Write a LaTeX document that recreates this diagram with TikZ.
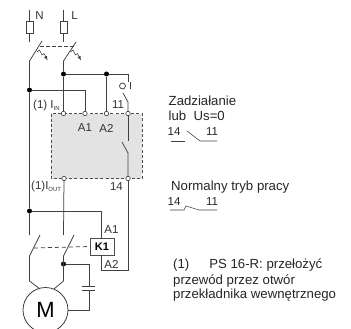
\documentclass[tikz,border=0pt]{standalone}
\usepackage{amsmath}
\usepackage{fontspec}
\setmainfont{Liberation Sans}
\begin{document}
\begin{tikzpicture}[x=1pt,y=-1pt,
	wire/.style={draw=black!75,line width=0.75pt},
	dot/.style={circle,fill=black,inner sep=0pt,minimum size=5pt},
	term/.style={circle,draw=black!70,fill=white,line width=0.7pt,inner sep=0pt,minimum size=4.4pt},
	lab/.style={text=black!80,font=\fontsize{11.5}{13}\selectfont},
	note/.style={text=black!85,font=\fontsize{13.2}{15}\selectfont,anchor=west},
	num/.style={text=black!85,font=\fontsize{11.5}{13}\selectfont,anchor=west}]
	\tikzstyle{every node}+=[inner sep=0pt]
	\useasboundingbox (0,0) rectangle (351,329);
	\fill [white] (0,0) rectangle (351,329);
	\fill [black!11] (51,113.5) rectangle (142,178.5);
	\draw [black!70,line width=0.7pt,dash pattern=on 3pt off 2.2pt] (51,113.5) rectangle (142,178.5);
	\node [dot] (q1) at (63.5,74) {};
	\node [dot] (q2) at (106.5,74) {};
	\node [dot] (q3) at (29.5,90) {};
	\node [dot] (q4) at (29.5,211) {};
	\node [dot] (q5) at (63.5,264) {};
	\node [term] (in) at (63.5,113.5) {};
	\node [term] (a1) at (85,113.5) {};
	\node [term] (a2) at (106.5,113.5) {};
	\node [term] (t11) at (128,113.5) {};
	\node [term] (out) at (64,178.5) {};
	\node [term] (t14) at (128,178.5) {};
	\node [draw=black!70,fill=white,line width=0.7pt,minimum width=24pt,minimum height=17pt,font=\fontsize{11}{12}\selectfont\bfseries] (k1) at (102,246.5) {K1};
	\node [circle,draw=black!80,line width=0.75pt,minimum size=45pt] (motor) at (45.5,310) {\fontsize{22}{24}\selectfont M};
	\coordinate (n0) at (29.5,10);
	\coordinate (n1) at (29.5,42);
	\coordinate (l0) at (63.5,10);
	\coordinate (l1) at (63.5,42);
	\coordinate (n2) at (42,41);
	\coordinate (n3) at (29.5,61);
	\coordinate (l2) at (76,42);
	\coordinate (l3) at (63.5,61);
	\coordinate (n4) at (29.5,235);
	\coordinate (n5) at (40,235);
	\coordinate (n6) at (29.5,256);
	\coordinate (n7) at (29.5,281);
	\coordinate (l4) at (63.5,235);
	\coordinate (l5) at (74,235);
	\coordinate (l6) at (63.5,256);
	\coordinate (l7) at (63.5,281);
	\draw [wire] (n0) -- (n1);
	\draw [wire] (l0) -- (l1);
	\draw [wire,fill=white] (26,21) rectangle (33,33);
	\draw [wire,fill=white] (60,21) rectangle (67.5,33);
	\draw [wire] (n2) -- (n3) -- (q3) -- (q4) -- (n4);
	\draw [wire] (l2) -- (l3) -- (q1) -- (in);
	\draw [wire,dash pattern=on 3.5pt off 2.5pt] (40,46.5) -- (74,46.5);
	\draw [wire,line width=0.55pt,-latex] (37,52) -- (39.5,50) -- (42,55) -- (44,53.5) -- (47.5,60.5);
	\draw [wire,line width=0.55pt,-latex] (70.5,52) -- (73,50) -- (75.5,55) -- (77.5,53.5) -- (81,60.5);
	\draw [wire] (q1) -- (q2) -- (128,74) -- (128,82);
	\draw [wire] (q2) -- (a2);
	\draw [wire] (q3) -- (85,90) -- (a1);
	\draw [wire] (123,93) -- (128,102) -- (t11);
	\draw [wire] (t11) -- (128,141);
	\draw [wire] (122,142) -- (128,153) -- (t14);
	\draw [wire] (out) -- (l4);
	\draw [wire] (t14) -- (128,270) -- (101,270) -- (k1.south -| 101,270);
	\draw [wire] (q4) -- (101,211) -- (k1.north -| 101,211);
	\draw [wire] (n5) -- (n6) -- (n7) -- (40,289);
	\draw [wire] (l5) -- (l6) -- (l7) -- (54,289);
	\draw [wire,dash pattern=on 4pt off 3pt] (34,248) -- (k1.west);
	\draw [wire] (q5) -- (89,264) -- (89,286);
	\draw [wire] (82,286) -- (95,286);
	\draw [wire] (82,290) -- (95,290);
	\draw [wire] (89,290) -- (89,310) -- (motor.east);
	\draw [wire] (122.5,86) circle (3);
	\draw [wire] (130.5,82.5) -- (130.5,89.5);
	\draw [wire,line width=0.55pt] (171,141) -- (185,141);
	\draw [wire,line width=0.55pt] (187,131) -- (200,141) -- (217,141);
	\draw [wire,line width=0.55pt] (170,210) -- (184,210) -- (186,206) -- (199,210) -- (217,210);
	\node [lab] (N) at (39.5,16) {N};
	\node [lab] (L) at (74.5,16) {L};
	\node [lab,anchor=west] (inl) at (33,105.5) {(1) I\textsubscript{\fontsize{6}{6}\selectfont IN}};
	\node [lab] (t11l) at (118,105) {11};
	\node [lab] (a1l) at (85,128) {A1};
	\node [lab] (a2l) at (106.5,128) {A2};
	\node [lab,anchor=west] (outl) at (31,187) {(1)I\textsubscript{\fontsize{6}{6}\selectfont OUT}};
	\node [lab] (t14l) at (116.5,187) {14};
	\node [lab] (k1a1) at (111.5,229.5) {A1};
	\node [lab] (k1a2) at (111.5,264.5) {A2};
	\node [note] (z1) at (168.5,100.5) {Zadziałanie};
	\node [note] (z2) at (168.5,116) {lub\ \ Us=0};
	\node [num] (z3) at (167.5,132) {14};
	\node [num] (z4) at (206,132) {11};
	\node [note] (w1) at (171,187) {Normalny tryb pracy};
	\node [num] (w2) at (167.5,202) {14};
	\node [num] (w3) at (206,202) {11};
	\node [note] (p1) at (173,265) {(1)\hspace{20pt}PS 16-R: przełożyć};
	\node [note] (p2) at (173,281) {przewód przez otwór};
	\node [note] (p3) at (173,295) {przekładnika wewnętrznego};
\end{tikzpicture}
\end{document}
